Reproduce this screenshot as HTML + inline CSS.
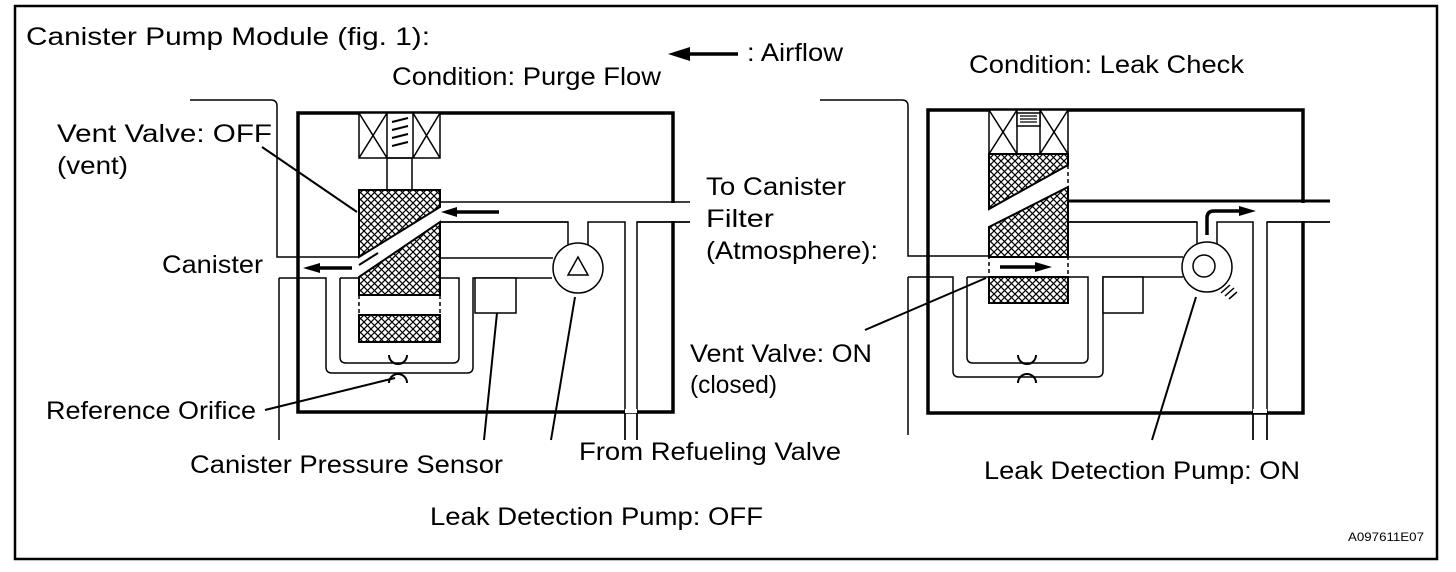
<!DOCTYPE html>
<html><head><meta charset="utf-8"><style>
html,body{margin:0;padding:0;background:#fff;}
svg{display:block;}
text{font-family:"Liberation Sans",Arial,sans-serif;font-size:25px;fill:#000;}
</style></head><body>
<svg width="1456" height="572" viewBox="0 0 1456 572" xmlns="http://www.w3.org/2000/svg">
<defs>
<pattern id="h" width="7" height="7" patternUnits="userSpaceOnUse">
<rect width="7" height="7" fill="#fff"/>
<path d="M0,0L7,7M7,0L0,7" stroke="#000" stroke-width="1.2"/>
</pattern>
</defs>
<rect x="15" y="6" width="1422" height="553" fill="none" stroke="#000" stroke-width="2.5"/>

<g fill="none" stroke="#000" stroke-width="1.5">
<!-- LEFT MODULE -->
<path d="M190,100H271Q277,100 277,106V257H359"/>
<path d="M279,278V440"/>
<path d="M279,278H326V367Q326,373 332,373H467Q473,373 473,367V278H516"/>
<path d="M340,278V357Q340,363 346,363H453Q459,363 459,357V278H440"/>
<path d="M340,278H359"/>
<path d="M516,278H552"/>
<rect x="475" y="278" width="41" height="35" fill="#fff"/>
<path d="M440,222H568V245M588,245V222H625V440M637,440V222H690"/>
<path d="M440,258H553"/>
<rect x="298" y="113" width="375" height="299" stroke-width="3.5"/>
<path d="M673,203V221" stroke="#fff" stroke-width="4"/>
<path d="M440,202H690M440,222H568M637,222H690"/>
<path d="M625,412V440M637,412V440"/>
<path d="M625,411H637" stroke="#fff" stroke-width="4"/>
<rect x="359" y="113" width="81" height="45" fill="#fff"/>
<path d="M387,113V158M413,113V158M359,113L387,158M387,113L359,158M413,113L440,158M440,113L413,158"/>
<path d="M392,122L408,118M392,130L408,126M392,138L408,134M392,146L408,142" stroke-width="2"/>
<rect x="387" y="158" width="25" height="32"/>
<path d="M359,190H440V207L359,257Z" fill="url(#h)" stroke-width="2"/>
<path d="M359,277L440,222V295H359Z" fill="url(#h)" stroke-width="2"/>
<rect x="359" y="315" width="81" height="27" fill="url(#h)" stroke-width="2"/>
<path d="M359,295V315M440,295V315" stroke-dasharray="4,3"/>
<path d="M359,265L378,253" stroke-width="2"/>
<circle cx="578" cy="268" r="25" fill="#fff"/>
<path d="M578,257L568,275H588Z"/>
<path d="M389,355A9,9 0 0 0 407,355M389,383A9,9 0 0 1 407,383" stroke-width="2"/>
<g stroke-width="2">
<path d="M262,147L357,212"/>
<path d="M265,410L395,378"/>
<path d="M497,313L484,440"/>
<path d="M575,297L551,440"/>
</g>

<!-- RIGHT MODULE -->
<path d="M820,100H902Q908,100 908,106V256H989"/>
<path d="M908,277V435"/>
<path d="M908,277H953V371Q953,377 959,377H1097Q1103,377 1103,371V277H1143"/>
<path d="M967,277V357Q967,363 973,363H1082Q1088,363 1088,357V277H1068"/>
<path d="M967,277H989"/>
<path d="M1143,277H1183"/>
<rect x="1103" y="277" width="40" height="36" fill="#fff"/>
<path d="M1068,257H1183"/>
<path d="M1068,222H1197V245M1217,245V222H1253V440M1267,440V222H1330"/>
<rect x="928" y="110" width="375" height="303" stroke-width="3.5"/>
<path d="M1303,203V221" stroke="#fff" stroke-width="4"/>
<path d="M1068,201H1330" stroke-width="3"/>
<path d="M1068,222H1197M1267,222H1330"/>
<path d="M1253,411V440M1267,411V440"/>
<path d="M1253,411H1267" stroke="#fff" stroke-width="4"/>
<rect x="989" y="110" width="79" height="44" fill="#fff"/>
<path d="M1017,110V154M1040,110V154M989,110L1017,154M1017,110L989,154M1040,110L1068,154M1068,110L1040,154"/>
<rect x="1017" y="113" width="23" height="13" fill="#fff"/>
<path d="M1020,116H1037M1020,119H1037M1020,122H1037" stroke-width="1.2"/>
<path d="M989,154H1068V165L989,209Z" fill="url(#h)" stroke-width="2"/>
<path d="M989,227L1068,187V257H989Z" fill="url(#h)" stroke-width="2"/>
<rect x="989" y="277" width="79" height="26" fill="url(#h)" stroke-width="2"/>
<path d="M989,227V277M1068,165V277" stroke-dasharray="4,3"/>
<circle cx="1207" cy="267" r="25" fill="#fff"/>
<circle cx="1204" cy="266" r="11"/>
<path d="M1221,293l9,-8M1225,296l9,-8M1229,299l8,-7" stroke-width="1.5"/>
<path d="M1018,355A9,9 0 0 0 1036,355M1018,383A9,9 0 0 1 1036,383" stroke-width="2"/>
<g stroke-width="2">
<path d="M865,330L986,278"/>
<path d="M1196,297L1152,440"/>
</g>
</g>

<g stroke="#000" stroke-width="3.5" fill="none">
<path d="M738,54H686"/>
<path d="M499,212H455"/>
<path d="M352,268H318"/>
<path d="M1000,267H1036"/>
<path d="M1207,235V218Q1207,211 1214,211H1240"/>
</g>
<g fill="#000">
<path d="M668,54L690,47V61Z"/>
<path d="M441,212L457,207V217Z"/>
<path d="M303,268L320,263V273Z"/>
<path d="M1052,267L1035,262V272Z"/>
<path d="M1256,211L1239,206V216Z"/>
</g>

<text x="26" y="45" textLength="404" lengthAdjust="spacingAndGlyphs">Canister Pump Module (fig. 1):</text>
<text x="392" y="85" textLength="269" lengthAdjust="spacingAndGlyphs">Condition: Purge Flow</text>
<text x="747" y="61" textLength="96" lengthAdjust="spacingAndGlyphs">: Airflow</text>
<text x="969" y="73" textLength="275" lengthAdjust="spacingAndGlyphs">Condition: Leak Check</text>
<text x="57" y="142" textLength="215" lengthAdjust="spacingAndGlyphs">Vent Valve: OFF</text>
<text x="57" y="174" textLength="71" lengthAdjust="spacingAndGlyphs">(vent)</text>
<text x="706" y="195" textLength="140" lengthAdjust="spacingAndGlyphs">To Canister</text>
<text x="706" y="227" textLength="68" lengthAdjust="spacingAndGlyphs">Filter</text>
<text x="706" y="259" textLength="172" lengthAdjust="spacingAndGlyphs">(Atmosphere):</text>
<text x="162" y="273" textLength="101" lengthAdjust="spacingAndGlyphs">Canister</text>
<text x="690" y="362" textLength="182" lengthAdjust="spacingAndGlyphs">Vent Valve: ON</text>
<text x="690" y="393" textLength="87" lengthAdjust="spacingAndGlyphs">(closed)</text>
<text x="46" y="419" textLength="210" lengthAdjust="spacingAndGlyphs">Reference Orifice</text>
<text x="190" y="473" textLength="313" lengthAdjust="spacingAndGlyphs">Canister Pressure Sensor</text>
<text x="579" y="460" textLength="262" lengthAdjust="spacingAndGlyphs">From Refueling Valve</text>
<text x="430" y="525" textLength="333" lengthAdjust="spacingAndGlyphs">Leak Detection Pump: OFF</text>
<text x="984" y="479" textLength="316" lengthAdjust="spacingAndGlyphs">Leak Detection Pump: ON</text>
<text x="1348" y="541" style="font-size:12px" textLength="76" lengthAdjust="spacingAndGlyphs">A097611E07</text>
</svg>
</body></html>
